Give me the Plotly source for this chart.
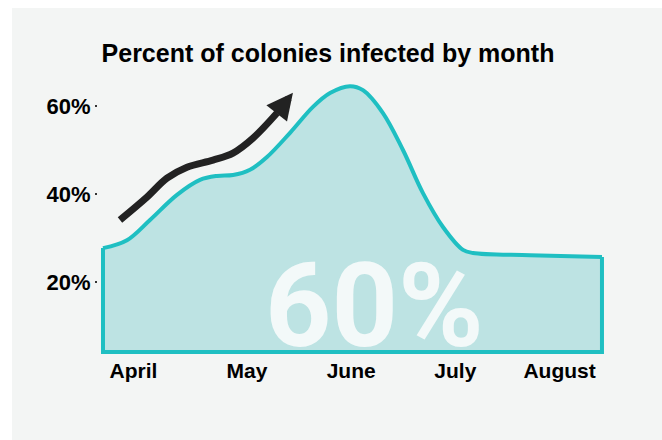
import plotly.graph_objects as go

# ---- data ----
month_labels = ["April", "May", "June", "July", "August"]
month_pos = [-0.09, 1, 2, 3, 4]

y_tick_vals = [20, 40, 60]
y_tick_text = ["20%", "40%", "60%"]

curve_x = [-0.382, -0.152, 0.069, 0.328, 0.549, 0.712, 0.866, 1.029, 1.192, 1.413,
           1.633, 1.797, 1.988, 2.113, 2.305, 2.497, 2.689, 2.881, 3.073, 3.169,
           3.716, 4.407]
curve_y = [27.7, 29.5, 34.1, 39.8, 43.2, 44.1, 44.3, 45.5, 48.4, 53.9,
           59.8, 62.95, 64.5, 63.6, 58.4, 50.0, 40.2, 32.5, 27.3, 26.6,
           26.1, 25.7]
base_value = 4.1

arrow_x = [-0.219, 0.040, 0.232, 0.424, 0.674, 0.866, 1.058, 1.288]
arrow_y = [34.1, 39.3, 43.6, 46.1, 47.7, 49.3, 52.7, 58.4]
arrow_tip = (1.441, 63.0)

big_label = "60%"
title_text = "Percent of colonies infected by month"

TEAL = "#1fbfc2"
FILL = "#bde3e3"
BG = "#f3f5f4"

fig = go.Figure()

# baseline (invisible) for the fill
fig.add_trace(go.Scatter(x=[curve_x[0], curve_x[-1]], y=[base_value, base_value],
                         mode="lines", line=dict(width=0, color=TEAL),
                         hoverinfo="skip", showlegend=False))
# curve with fill
fig.add_trace(go.Scatter(x=curve_x, y=curve_y, mode="lines",
                         line=dict(color=TEAL, width=4, shape="spline", smoothing=1),
                         fill="tonexty", fillcolor=FILL,
                         hoverinfo="skip", showlegend=False))

# big watermark label
fig.add_annotation(x=2.22, y=14.6, xref="x", yref="y", text=big_label,
                   showarrow=False,
                   font=dict(family="Liberation Sans Narrow, Roboto, Liberation Sans",
                             size=116, color="rgba(247,251,251,0.92)", weight="bold"),
                   xanchor="center", yanchor="middle")

# frame edges (left side, bottom, right side)
fig.add_trace(go.Scatter(x=[curve_x[0], curve_x[0], curve_x[-1], curve_x[-1]],
                         y=[curve_y[0], base_value, base_value, curve_y[-1]],
                         mode="lines", line=dict(color=TEAL, width=4),
                         hoverinfo="skip", showlegend=False))

# trend arrow
fig.add_trace(go.Scatter(x=arrow_x, y=arrow_y, mode="lines",
                         line=dict(color="#222222", width=7, shape="spline"),
                         hoverinfo="skip", showlegend=False))
fig.add_annotation(x=arrow_tip[0], y=arrow_tip[1], ax=arrow_x[-1], ay=arrow_y[-1],
                   xref="x", yref="y", axref="x", ayref="y", text="",
                   showarrow=True, arrowhead=2, arrowsize=0.75, arrowwidth=7,
                   arrowcolor="#222222", standoff=0)

# background panel
fig.add_shape(type="rect", xref="paper", yref="paper",
              x0=(12 - 98) / 547, x1=(662 - 98) / 547,
              y0=(356 - 440) / 296, y1=(356 - 8) / 296,
              fillcolor=BG, line=dict(width=0), layer="below")

fig.update_layout(
    width=662, height=440,
    margin=dict(l=98, r=17, t=60, b=84),
    paper_bgcolor="white", plot_bgcolor="rgba(0,0,0,0)",
    title=dict(text=title_text, x=328 / 662, xanchor="center", xref="container",
               y=1 - 53 / 440, yanchor="middle", yref="container",
               font=dict(family="Liberation Sans", size=25, color="black", weight="bold")),
    xaxis=dict(range=[-0.430, 4.820], tickmode="array", tickvals=month_pos,
               ticktext=month_labels, showgrid=False, zeroline=False, showline=False,
               ticks="", tickfont=dict(family="Liberation Sans", size=21, color="black",
                                       weight="bold")),
    yaxis=dict(range=[3.18, 70.45], tickmode="array", tickvals=y_tick_vals,
               ticktext=y_tick_text, showgrid=False, zeroline=False, showline=False,
               ticks="outside", ticklen=2, tickwidth=2, tickcolor="#333",
               tickfont=dict(family="Liberation Sans", size=22, color="black",
                             weight="bold")),
)

fig.write_html("out.html")
